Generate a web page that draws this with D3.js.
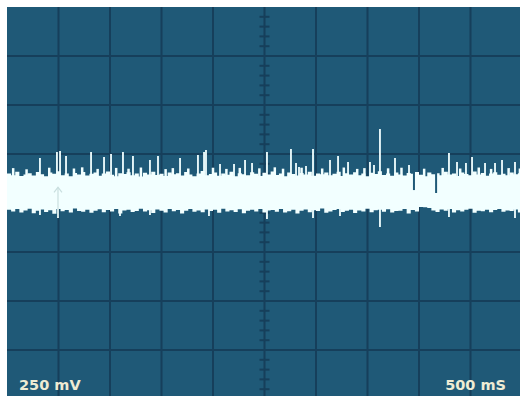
<!DOCTYPE html>
<html>
<head>
<meta charset="utf-8">
<title>scope trace</title>
<style>
  html, body { margin: 0; padding: 0; background: #fff; }
  svg { display: block; }
  .lbl { font-family: "DejaVu Sans", sans-serif; font-weight: bold; font-size: 14.5px; fill: #eeecd4; }
</style>
</head>
<body>
<svg width="520" height="396"></svg>
<script src="https://cdn.jsdelivr.net/npm/d3@7"></script>
<script>
// time in ms (10 div x 500 ms), voltage in mV (8 div x 250 mV)
var timeStep = 40;

// upper / lower envelope of the noise band, one value every 40 ms
var upperEdge = [150,142,160,138,145,152,140,158,147,136,155,149,162,141,150,137,153,146,158,140,
  149,155,139,151,161,144,137,152,148,157,141,150,135,154,146,160,143,149,138,156,
  147,152,140,158,145,137,151,163,142,148,155,139,150,144,159,136,152,147,141,157,
  149,138,154,146,161,143,150,137,155,148,140,153,145,159,139,151,147,156,142,149,
  160,138,152,145,157,141,150,136,154,148,162,143,151,139,156,146,140,153,149,158,
  144,137,155,147,152,141,159,145,150,138,156,148,142,161,146,153,139,150,157,144,
  149,141,155,147,152,143];
var lowerEdge = [-35,-44,-30,-48,-38,-29,-52,-40,-33,-46,-37,-55,-31,-42,-36,-49,-28,-41,-45,-34,
  -50,-39,-32,-47,-36,-43,-30,-53,-38,-35,-46,-41,-29,-44,-37,-51,-33,-40,-48,-31,
  -42,-36,-54,-39,-30,-45,-38,-47,-33,-41,-35,-50,-29,-43,-37,-46,-32,-52,-40,-34,
  -44,-31,-48,-38,-36,-45,-30,-49,-42,-35,-53,-39,-33,-47,-37,-41,-28,-50,-44,-36,
  -31,-46,-40,-34,-51,-38,-43,-29,-47,-37,-35,-45,-32,-49,-41,-39,-30,-54,-36,-43,
  -20,-22,-25,-38,-46,-33,-40,-31,-48,-37,-44,-35,-29,-50,-39,-42,-34,-47,-36,-30,
  -45,-38,-41,-33,-49,-37];

// isolated glitches above the band: [time ms, peak mV]
var spikesUp = [[320,230],[485,260],[515,265],[573,240],[816,260],[942,235],[1010,250],[1126,260],
  [1223,240],[1388,219],[1466,240],[1680,230],[1854,245],[1913,260],[1932,270],[2068,199],
  [2204,199],[2311,219],[2379,204],[2524,260],[2757,275],[2806,204],[2835,184],[2903,189],
  [2971,275],[3136,219],[3214,240],[3311,209],[3524,209],[3563,194],[3621,378],[3767,230],
  [3903,194],[4291,255],[4369,209],[4456,204],[4515,235],[4641,204],[4738,204],[4806,219],[4932,209]];
// short glitches just above the band: [time ms, peak mV]
var smallUp = [[60,178],[190,172],[410,180],[650,176],[730,182],[880,174],[1060,179],[1180,175],
  [1300,181],[1540,173],[1610,178],[1760,176],[2000,180],[2130,174],[2260,179],[2450,177],
  [2600,182],[2680,175],[2860,180],[3060,176],[3270,181],[3400,174],[3470,178],[3700,177],
  [3830,180],[4050,175],[4230,179],[4400,176],[4580,181],[4700,174],[4870,178],[4980,176]];
// glitches below the band: [time ms, low mV]
var spikesDown = [[320,-61],[495,-77],[1097,-66],[1388,-61],[1961,-66],[2524,-82],[2971,-77],
  [3233,-66],[3621,-122],[4291,-71],[4932,-77]];
// dropouts in the trace: [time ms, from mV, to mV]
var dropouts = [[3951,170,66],[4166,165,51]];

var markerTime = 495;   // ground/trigger marker
var voltLabel = '250 mV';
var timeLabel = '500 mS';

var svg = d3.select('svg');
var x = d3.scaleLinear().domain([0, 5000]).range([7, 522]);
var y = d3.scaleLinear().domain([-1000, 1000]).range([399, 7]);

var bg = '#1f5977', gridCol = '#163f5b', traceCol = '#f2ffff';

svg.append('rect').attr('x', 7).attr('y', 7).attr('width', 515).attr('height', 392).attr('fill', bg);

var grid = svg.append('g').attr('stroke', gridCol).attr('stroke-width', 2);
grid.selectAll('line.v').data(d3.range(500, 5000, 500)).enter().append('line')
  .attr('x1', function(d){ return x(d); }).attr('x2', function(d){ return x(d); })
  .attr('y1', 7).attr('y2', 399);
grid.selectAll('line.h').data(d3.range(-750, 1000, 250)).enter().append('line')
  .attr('y1', function(d){ return y(d); }).attr('y2', function(d){ return y(d); })
  .attr('x1', 7).attr('x2', 522);

// minor ticks on the centre axes
grid.selectAll('line.tv').data(d3.range(-950, 1000, 50).filter(function(d){ return d % 250 !== 0; }))
  .enter().append('line')
  .attr('x1', x(2500) - 5).attr('x2', x(2500) + 5)
  .attr('y1', function(d){ return y(d); }).attr('y2', function(d){ return y(d); });
grid.selectAll('line.th').data(d3.range(100, 5000, 100).filter(function(d){ return d % 500 !== 0; }))
  .enter().append('line')
  .attr('y1', y(0) - 5).attr('y2', y(0) + 5)
  .attr('x1', function(d){ return x(d); }).attr('x2', function(d){ return x(d); });

// noise band
var band = upperEdge.map(function(u, i){ return { t: i * timeStep, hi: u, lo: lowerEdge[i] }; });
var area = d3.area().curve(d3.curveStepAfter)
  .x(function(d){ return x(d.t); })
  .y0(function(d){ return y(d.lo); })
  .y1(function(d){ return y(d.hi); });
svg.append('path').datum(band).attr('d', area).attr('fill', traceCol);

var sp = svg.append('g').attr('stroke', traceCol).attr('stroke-width', 1.8);
sp.selectAll('line.up').data(spikesUp).enter().append('line')
  .attr('x1', function(d){ return x(d[0]); }).attr('x2', function(d){ return x(d[0]); })
  .attr('y1', y(100)).attr('y2', function(d){ return y(d[1]); });
sp.selectAll('line.sm').data(smallUp).enter().append('line')
  .attr('stroke-width', 2.5)
  .attr('x1', function(d){ return x(d[0]); }).attr('x2', function(d){ return x(d[0]); })
  .attr('y1', y(100)).attr('y2', function(d){ return y(d[1]); });
sp.selectAll('line.dn').data(spikesDown).enter().append('line')
  .attr('x1', function(d){ return x(d[0]); }).attr('x2', function(d){ return x(d[0]); })
  .attr('y1', y(0)).attr('y2', function(d){ return y(d[1]); });

svg.append('g').attr('stroke', bg).attr('stroke-width', 2)
  .selectAll('line').data(dropouts).enter().append('line')
  .attr('x1', function(d){ return x(d[0]); }).attr('x2', function(d){ return x(d[0]); })
  .attr('y1', function(d){ return y(d[1]); }).attr('y2', function(d){ return y(d[2]); });

// marker arrow
var mx = x(markerTime);
var mk = svg.append('g').attr('stroke', '#c9dfdf').attr('stroke-width', 1.2).attr('fill', 'none');
mk.append('line').attr('x1', mx).attr('x2', mx).attr('y1', y(-70)).attr('y2', y(80));
mk.append('path').attr('d', 'M' + (mx - 4) + ',' + (y(80) + 5) + 'L' + mx + ',' + y(80) + 'L' + (mx + 4) + ',' + (y(80) + 5));

svg.append('text').attr('class', 'lbl').attr('x', 19).attr('y', 390).text(voltLabel);
svg.append('text').attr('class', 'lbl').attr('x', 506).attr('y', 390).attr('text-anchor', 'end').text(timeLabel);
</script>
</body>
</html>
